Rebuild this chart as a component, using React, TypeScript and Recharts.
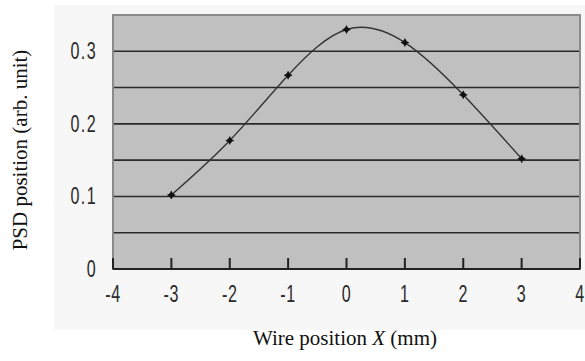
import React from 'react';
import { LineChart, Line, XAxis, YAxis, CartesianGrid, ReferenceArea } from 'recharts';

const wirePositions = [-3, -2, -1, 0, 1, 2, 3];
const psdPositions = [0.102, 0.177, 0.267, 0.33, 0.312, 0.24, 0.152];
const xTicks = [-4, -3, -2, -1, 0, 1, 2, 3, 4];
const yTicks = [0, 0.05, 0.1, 0.15, 0.2, 0.25, 0.3];
const yLabelTicks = [0, 0.1, 0.2, 0.3];

const data = wirePositions.map((x, i) => ({ x, y: psdPositions[i] }));

const tickFont = "'Liberation Sans', Arial, sans-serif";

const XTick = (props: any) => {
  const { x, y, payload } = props;
  return (
    <g>
      <line x1={x} x2={x} y1={y - 11} y2={y} stroke="#222" strokeWidth={2} />
      <g transform={`translate(${x},${y + 33}) scale(0.7,1)`}>
        <text x={0} y={0} textAnchor="middle" fontSize={23} letterSpacing={1} fontFamily={tickFont} fill="#2a2a2a">
          {payload.value}
        </text>
      </g>
    </g>
  );
};

const YTick = (props: any) => {
  const { x, y, payload } = props;
  const v = payload.value;
  if (!yLabelTicks.some((t) => Math.abs(t - v) < 1e-9)) return null;
  return (
    <g transform={`translate(${x},${y + 8}) scale(0.7,1)`}>
      <text x={0} y={0} textAnchor="end" fontSize={23} letterSpacing={2} fontFamily={tickFont} fill="#2a2a2a">
        {String(v)}
      </text>
    </g>
  );
};

const Marker = (props: any) => {
  const { cx, cy } = props;
  if (cx == null || cy == null) return null;
  const s = 3.5;
  return (
    <g>
      <path d={`M${cx},${cy - s} L${cx + s},${cy} L${cx},${cy + s} L${cx - s},${cy} Z`} fill="#111" />
      <line x1={cx - 4} x2={cx + 4} y1={cy} y2={cy} stroke="#111" strokeWidth={1.2} />
      <line x1={cx} x2={cx} y1={cy - 4} y2={cy + 4} stroke="#111" strokeWidth={1.2} />
    </g>
  );
};

export default function App() {
  return (
    <div style={{ position: 'absolute', left: 0, top: 0, width: 585, height: 361, background: '#fff' }}>
      <div style={{ position: 'absolute', left: 54, top: 5, width: 531, height: 325, background: '#f7f7f7' }} />
      <div style={{ position: 'absolute', left: 0, top: 0 }}>
        <LineChart width={585} height={361} data={data} margin={{ top: 15, right: 5, bottom: 52, left: 53 }}>
          <CartesianGrid
            horizontal
            vertical={false}
            fill="#c0c0c0"
            stroke="#2a2a2a"
            strokeWidth={1.6}
            horizontalValues={yTicks}
          />
          <ReferenceArea x1={-4} x2={4} y1={0} y2={0.35} fill="none" stroke="#8a8a8a" strokeWidth={2} ifOverflow="visible" />
          <XAxis
            dataKey="x"
            type="number"
            domain={[-4, 4]}
            ticks={xTicks}
            height={40}
            tickSize={0}
            tickMargin={0}
            tickLine={false}
            axisLine={{ stroke: '#222', strokeWidth: 2 }}
            tick={<XTick />}
            interval={0}
          />
          <YAxis
            type="number"
            domain={[0, 0.35]}
            ticks={yTicks}
            width={60}
            tickSize={0}
            tickMargin={16}
            tickLine={false}
            axisLine={false}
            tick={<YTick />}
            interval={0}
          />
          <Line
            type="natural"
            dataKey="y"
            stroke="#333"
            strokeWidth={1.4}
            dot={<Marker />}
            activeDot={false}
            isAnimationActive={false}
          />
        </LineChart>
      </div>
      <div
        style={{
          position: 'absolute',
          left: 20,
          top: 150,
          transform: 'translate(-50%, -50%) rotate(-90deg)',
          whiteSpace: 'nowrap',
          fontFamily: "'Liberation Serif', 'Times New Roman', serif",
          fontSize: 21,
          color: '#111',
        }}
      >
        PSD position (arb. unit)
      </div>
      <div
        style={{
          position: 'absolute',
          left: 345,
          top: 338,
          transform: 'translate(-50%, -50%)',
          whiteSpace: 'nowrap',
          fontFamily: "'Liberation Serif', 'Times New Roman', serif",
          fontSize: 21,
          color: '#111',
        }}
      >
        Wire position <i>X</i> (mm)
      </div>
    </div>
  );
}
